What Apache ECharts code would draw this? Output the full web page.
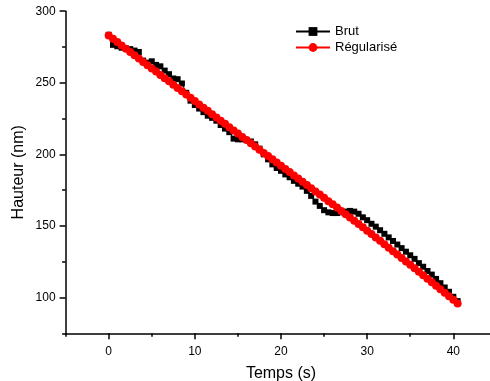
<!DOCTYPE html>
<html>
<head>
<meta charset="utf-8">
<script src="https://cdn.jsdelivr.net/npm/echarts@6/dist/echarts.min.js"></script>
<style>html,body{margin:0;padding:0;background:#fff;}#c{width:490px;height:381px;}</style>
</head>
<body>
<div id="c"></div>
<script>
const temps = [0,0.5,1,1.5,2,2.5,3,3.5,4,4.5,
  5,5.5,6,6.5,7,7.5,8,8.5,9,9.5,
  10,10.5,11,11.5,12,12.5,13,13.5,14,14.5,
  15,15.5,16,16.5,17,17.5,18,18.5,19,19.5,
  20,20.5,21,21.5,22,22.5,23,23.5,24,24.5,
  25,25.5,26,26.5,27,27.5,28,28.5,29,29.5,
  30,30.5,31,31.5,32,32.5,33,33.5,34,34.5,
  35,35.5,36,36.5,37,37.5,38,38.5,39,39.5,
  40,40.5];
const brut = [283.5,276.5,275.5,274.5,274.0,273.5,272.5,271.5,265.5,264.0,
  265.0,262.5,261.5,258.5,256.0,253.0,252.5,249.5,243.0,237.5,
  234.5,232.0,229.5,227.0,225.5,223.5,220.5,218.0,215.5,211.0,
  210.5,210.5,210.0,209.0,207.0,204.0,200.0,196.5,193.0,190.5,
  188.5,186.0,184.0,181.5,179.5,177.5,174.5,171.0,167.0,164.0,
  161.0,159.5,159.0,159.0,159.5,160.0,160.5,160.0,158.5,156.0,
  154.0,151.5,149.5,147.0,144.5,142.0,139.5,137.0,134.5,132.0,
  129.5,127.0,124.0,121.5,118.5,116.0,113.0,110.0,107.0,104.0,
  100.5,97.5];
const regularise = [283.0,280.7,278.4,276.1,273.8,271.5,269.2,266.9,264.6,262.3,
  260.0,257.8,255.5,253.2,251.0,248.7,246.4,244.1,241.8,239.5,
  237.2,234.9,232.6,230.4,228.1,225.8,223.5,221.3,219.0,216.7,
  214.5,212.2,210.0,207.7,205.5,203.2,201.0,198.8,196.5,194.3,
  192.0,189.8,187.6,185.3,183.1,180.9,178.6,176.4,174.1,171.9,
  169.6,167.3,165.1,162.8,160.5,158.2,155.9,153.6,151.3,149.0,
  146.7,144.3,142.0,139.6,137.2,134.8,132.4,130.0,127.6,125.2,
  122.8,120.4,118.0,115.6,113.1,110.7,108.2,105.8,103.3,100.8,
  98.4,95.9];
const xMajorTicks = [0,10,20,30,40];
const xMinorTicks = [-5,5,15,25,35,45];
const yMajorTicks = [100,150,200,250,300];
const yMinorTicks = [75,125,175,225,275];
const seriesNames = ['Brut','Régularisé'];
const xTitle = 'Temps (s)';
const yTitle = 'Hauteur (nm)';

const FONT = 'Liberation Sans';
const chart = echarts.init(document.getElementById('c'), null, {renderer:'canvas'});
const axisLine = {show:true, onZero:false, lineStyle:{color:'#000', width:1.5}};
chart.setOption({
  animation:false,
  backgroundColor:'#fff',
  textStyle:{fontFamily:FONT, color:'#000'},
  grid:{left:65.6, right:-6.4, top:11.2, bottom:47.7, containLabel:false, outerBoundsMode:'none'},
  legend:{
    orient:'vertical', left:290, top:19,
    itemWidth:34, itemHeight:11, itemGap:1,
    textStyle:{fontFamily:FONT, fontSize:13, color:'#000', lineHeight:15},
    data:seriesNames
  },
  xAxis:[{
    type:'value', min:-5, max:45,
    name:xTitle, nameLocation:'middle', nameGap:32, nameMoveOverlap:false,
    nameTextStyle:{fontFamily:FONT, fontSize:16, color:'#000'},
    axisLine:axisLine,
    axisTick:{show:true, inside:false, length:6, customValues:xMajorTicks, lineStyle:{color:'#000', width:1.5}},
    axisLabel:{show:true, customValues:xMajorTicks, margin:12, fontFamily:FONT, fontSize:12, color:'#000'},
    splitLine:{show:false}
  },{
    type:'value', min:-5, max:45, position:'bottom',
    axisLine:{show:false, onZero:false},
    axisTick:{show:true, inside:false, length:3.5, customValues:xMinorTicks, lineStyle:{color:'#000', width:1.5}},
    axisLabel:{show:false},
    splitLine:{show:false}
  }],
  yAxis:[{
    type:'value', min:75, max:300,
    name:yTitle, nameLocation:'middle', nameGap:39, nameRotate:90, nameMoveOverlap:false,
    nameTextStyle:{fontFamily:FONT, fontSize:16, color:'#000'},
    axisLine:axisLine,
    axisTick:{show:true, inside:false, length:6, customValues:yMajorTicks, lineStyle:{color:'#000', width:1.5}},
    axisLabel:{show:true, customValues:yMajorTicks, margin:10, fontFamily:FONT, fontSize:12, color:'#000'},
    splitLine:{show:false}
  },{
    type:'value', min:75, max:300, position:'left',
    axisLine:{show:false, onZero:false},
    axisTick:{show:true, inside:false, length:3.5, customValues:yMinorTicks, lineStyle:{color:'#000', width:1.5}},
    axisLabel:{show:false},
    splitLine:{show:false}
  }],
  series:[{
    name:seriesNames[0], type:'line', xAxisIndex:0, yAxisIndex:0,
    data:temps.map((t,i)=>[t, brut[i]]),
    symbol:'rect', symbolSize:6, showSymbol:true, showAllSymbol:true,
    itemStyle:{color:'#000'}, lineStyle:{color:'#000', width:1},
    z:2
  },{
    name:seriesNames[1], type:'line', xAxisIndex:0, yAxisIndex:0,
    data:temps.map((t,i)=>[t, regularise[i]]),
    symbol:'circle', symbolSize:8, showSymbol:true, showAllSymbol:true,
    itemStyle:{color:'#ff0000'}, lineStyle:{color:'#ff0000', width:1},
    z:3
  }]
});
</script>
</body>
</html>
